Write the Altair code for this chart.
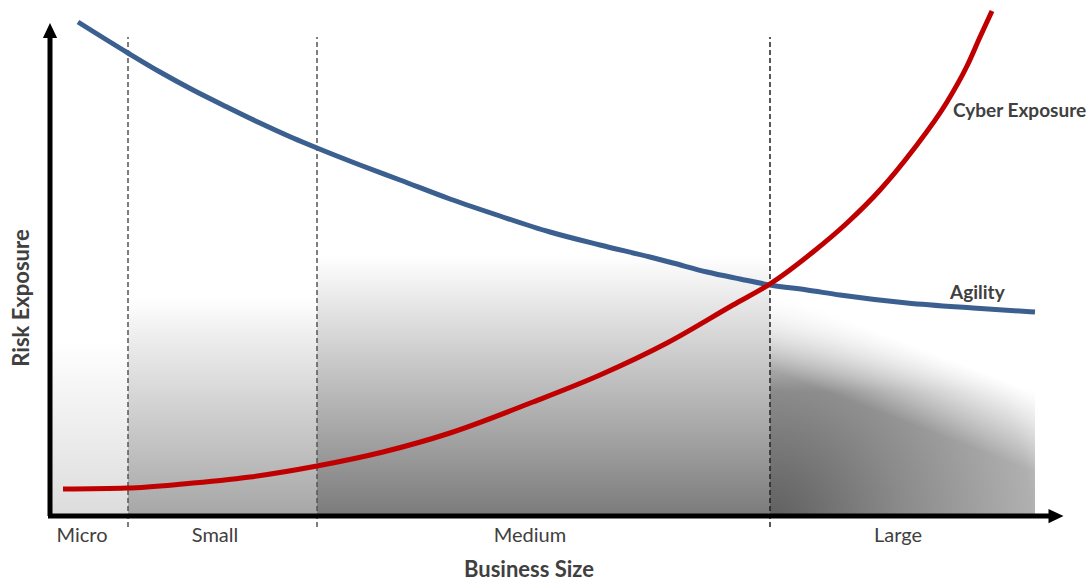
import altair as alt
import pandas as pd

# ---- data (x = business size index, y = risk exposure index) ----
size_agility = [30, 80, 112, 145, 179, 212, 245, 269, 312, 352, 402, 452, 502, 552, 602,
                625, 659, 692, 722, 759, 792, 859, 925, 987]
agility = [494, 463, 444, 426, 409, 393, 378, 368, 351, 336, 317, 300, 284, 271, 259,
           253, 244, 237, 231, 226, 221, 213, 208, 204]

size_cyber = [15, 79, 135, 202, 269, 335, 402, 485, 552, 619, 685, 722, 765, 799, 832,
              865, 899, 919, 932, 944]
cyber = [27, 28, 32, 39, 50, 64, 83, 114, 141, 173, 211, 232, 264, 293, 326,
         366, 414, 450, 479, 505]

segments = ["Micro", "Small", "Medium", "Large"]
seg_start = [0, 80, 269, 722]
seg_end = [80, 269, 722, 987]
seg_top = [176, 218, 261, 248]
seg_label_x = [34, 167, 482, 850]
dividers = [80, 269, 722]
divider_colors = ["#555555", "#555555", "#222222"]

FONT = "Lato"
TXT = "#404040"

xs = alt.Scale(domain=[-48, 1043], nice=False, zero=False)
ys = alt.Scale(domain=[-68, 516], nice=False, zero=False)

def X(f):
    return alt.X(f, type="quantitative", scale=xs, axis=None)

def Y(f):
    return alt.Y(f, type="quantitative", scale=ys, axis=None)

regions = pd.DataFrame({"seg": segments, "x0": seg_start, "x1": seg_end,
                        "top": seg_top, "bottom": [0] * 4})

def stops(pairs):
    return [alt.GradientStop(offset=o, color=c) for o, c in pairs]

def vgrad(pairs):
    return alt.LinearGradient(gradient="linear", stops=stops(pairs), x1=0, y1=0, x2=0, y2=1)

region_layers = []
grads = {
    "Micro": vgrad([(0, "#ffffff"), (1, "#dcdcdc")]),
    "Small": vgrad([(0, "#ffffff"), (0.15, "#f0f0f0"), (1, "#a6a6a6")]),
    "Medium": vgrad([(0, "#ffffff"), (0.1, "#f2f2f2"), (1, "#7b7b7b")]),
}
for s, g in grads.items():
    region_layers.append(
        alt.Chart(regions).transform_filter(alt.datum.seg == s)
        .mark_rect(fill=g, strokeWidth=0)
        .encode(x=X("x0"), x2="x1", y=Y("bottom"), y2="top")
    )

large = alt.Chart(regions).transform_filter(alt.datum.seg == "Large")
region_layers.append(
    large.mark_rect(
        fill=alt.RadialGradient(gradient="radial", x1=0, y1=1, r1=0, x2=0, y2=1, r2=1.1,
                                stops=stops([(0, "#5e5e5e"), (0.45, "#8a8a8a"),
                                             (0.9, "#b0b0b0"), (1, "#c8c8c8")])),
        strokeWidth=0)
    .encode(x=X("x0"), x2="x1", y=Y("bottom"), y2="top")
)
region_layers.append(
    large.mark_rect(
        fill=alt.LinearGradient(gradient="linear", x1=0, y1=0, x2=0, y2=1,
                                stops=stops([(0, "rgba(255,255,255,1)"), (0.1, "rgba(255,255,255,0.9)"),
                                             (0.5, "rgba(255,255,255,0)"), (1, "rgba(255,255,255,0)")])),
        strokeWidth=0)
    .encode(x=X("x0"), x2="x1", y=Y("bottom"), y2="top")
)
region_layers.append(
    large.mark_rect(
        fill=alt.LinearGradient(gradient="linear", x1=0.206, y1=0.496, x2=0.32, y2=0.22,
                                stops=stops([(0, "rgba(255,255,255,0)"), (1, "rgba(255,255,255,1)")])),
        strokeWidth=0)
    .encode(x=X("x0"), x2="x1", y=Y("bottom"), y2="top")
)

# dividers
div_df = pd.DataFrame({"x": dividers, "c": divider_colors, "y0": [-11] * 3, "y1": [479] * 3})
div_layer = alt.Chart(div_df).mark_rule(strokeWidth=1.5, strokeDash=[5, 3]).encode(
    x=X("x"), y=Y("y0"), y2="y1", color=alt.Color("c:N", scale=None))

# curves
ag_df = pd.DataFrame({"size": size_agility, "risk": agility})
cy_df = pd.DataFrame({"size": size_cyber, "risk": cyber})
ag_line = alt.Chart(ag_df).mark_line(color="#3b6090", strokeWidth=5, interpolate="monotone").encode(
    x=X("size"), y=Y("risk"))
cy_line = alt.Chart(cy_df).mark_line(color="#c00000", strokeWidth=5, interpolate="monotone").encode(
    x=X("size"), y=Y("risk"))

# axes with arrows
axis_df = pd.DataFrame({"x0": [2, 0], "x1": [2, 1003], "y0": [0, 0], "y1": [479, 0]})
axis_layer = alt.Chart(axis_df).mark_rule(color="black", strokeWidth=5).encode(
    x=X("x0"), x2="x1", y=Y("y0"), y2="y1")
arrow_up = alt.Chart(pd.DataFrame({"x": [2], "y": [485.5]})).mark_point(
    shape="M0,-1L0.95,1L-0.95,1Z", size=225, filled=True, color="black", opacity=1).encode(
    x=X("x"), y=Y("y"))
arrow_right = alt.Chart(pd.DataFrame({"x": [1008], "y": [0]})).mark_point(
    shape="M1,0L-1,0.95L-1,-0.95Z", size=225, filled=True, color="black", opacity=1).encode(
    x=X("x"), y=Y("y"))

# labels
seg_lab = pd.DataFrame({"t": segments, "x": seg_label_x, "y": [-20] * 4})
seg_text = alt.Chart(seg_lab).mark_text(font=FONT, fontSize=20, color=TXT, baseline="middle").encode(
    x=X("x"), y=Y("y"), text="t:N")

xtitle = alt.Chart(pd.DataFrame({"t": ["Business Size"], "x": [481], "y": [-54]})).mark_text(
    font=FONT, fontSize=22, fontWeight="bold", color=TXT, baseline="middle").encode(
    x=X("x"), y=Y("y"), text="t:N")
ytitle = alt.Chart(pd.DataFrame({"t": ["Risk Exposure"], "x": [-26], "y": [218]})).mark_text(
    font=FONT, fontSize=22, fontWeight="bold", color=TXT, baseline="middle", angle=270).encode(
    x=X("x"), y=Y("y"), text="t:N")

series_lab = pd.DataFrame({"t": ["Cyber Exposure", "Agility"], "x": [905, 902], "y": [405, 223]})
series_text = alt.Chart(series_lab).mark_text(
    font=FONT, fontSize=19, fontWeight="bold", color=TXT, align="left", baseline="middle").encode(
    x=X("x"), y=Y("y"), text="t:N")

chart = alt.layer(
    *region_layers, div_layer, ag_line, cy_line, axis_layer, arrow_up, arrow_right,
    seg_text, xtitle, ytitle, series_text
).properties(
    width=1091, height=584, padding=0, autosize=alt.AutoSizeParams(type="none"),
    background="white"
).configure_view(stroke=None)

chart.save("out.html", embed_options={"renderer": "svg", "actions": False})
